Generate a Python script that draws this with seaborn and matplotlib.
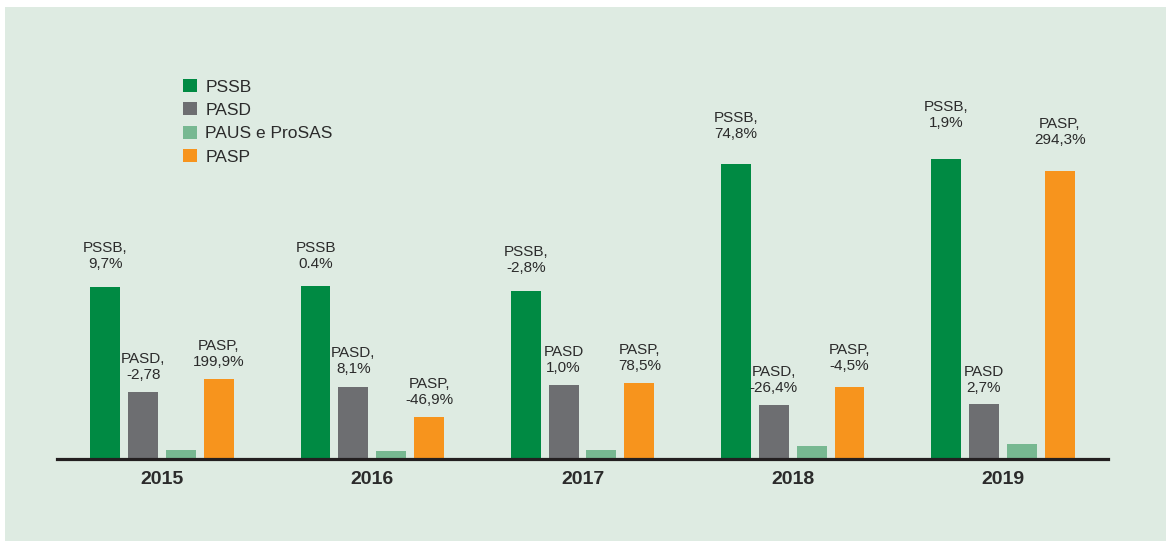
import matplotlib
matplotlib.use("Agg")
import matplotlib.pyplot as plt
import seaborn as sns
import pandas as pd
from matplotlib.patches import Rectangle

# ---- data (relative bar heights) ----
years = ["2015", "2016", "2017", "2018", "2019"]
programs = ["PSSB", "PASD", "PAUS e ProSAS", "PASP"]
pssb = [172, 173, 168, 295, 300]
pasd = [67, 72, 74, 54, 55]
paus = [9, 8, 9, 13, 15]
pasp = [80, 42, 76, 72, 288]

pssb_labels = ["PSSB,\n9,7%", "PSSB\n0.4%", "PSSB,\n-2,8%", "PSSB,\n74,8%", "PSSB,\n1,9%"]
pasd_labels = ["PASD,\n-2,78", "PASD,\n8,1%", "PASD\n1,0%", "PASD,\n-26,4%", "PASD\n2,7%"]
pasp_labels = ["PASP,\n199,9%", "PASP,\n-46,9%", "PASP,\n78,5%", "PASP,\n-4,5%", "PASP,\n294,3%"]

# label gap above bar top (pixels)
pssb_gap = [19, 18, 19, 26, 32]
pasd_gap = [13, 14, 13, 13, 12]
pasp_gap = [13, 13, 13, 17, 27]

colors = ["#008a43", "#6d6e71", "#77b891", "#f7941d"]
bg = "#deebe2"
txt = "#2b2b2b"

rows = []
for i, y in enumerate(years):
    for p, vals in zip(programs, [pssb, pasd, paus, pasp]):
        rows.append({"year": y, "program": p, "value": vals[i]})
df = pd.DataFrame(rows)

sns.set_theme(style="white")
plt.rcParams["font.family"] = ["Liberation Sans", "DejaVu Sans"]

W, H = 1166, 541
fig = plt.figure(figsize=(W / 100, H / 100), dpi=100, facecolor="white")
fig.patches.append(Rectangle((5 / W, 0), 1 - 5 / W, 1 - 7 / H, transform=fig.transFigure,
                             facecolor=bg, edgecolor="none", zorder=-10))

ax = fig.add_axes([57 / W, (H - 459) / H, 1051 / W, 400 / H])
ax.set_facecolor("none")

sns.barplot(data=df, x="year", y="value", hue="program", hue_order=programs,
            palette=colors, width=0.72, gap=0.21, ax=ax, saturation=1,
            legend=True, linewidth=0, edgecolor="none")

ax.set_xlim(-0.5, 4.5)
ax.set_ylim(0, 400)
for s in ["top", "right", "left"]:
    ax.spines[s].set_visible(False)
ax.spines["bottom"].set_color("#231f20")
ax.spines["bottom"].set_linewidth(2.3)
ax.spines["bottom"].set_zorder(5)
ax.set_yticks([])
ax.set_xlabel("")
ax.set_ylabel("")
ax.tick_params(axis="x", length=0, pad=9)
for t in ax.get_xticklabels():
    t.set_fontweight("bold")
    t.set_fontsize(14)
    t.set_color(txt)

# annotations
label_sets = {0: (pssb_labels, pssb_gap), 1: (pasd_labels, pasd_gap), 3: (pasp_labels, pasp_gap)}
for ci, (labs, gaps) in label_sets.items():
    cont = ax.containers[ci]
    for bar, lab, g in zip(cont, labs, gaps):
        cx = bar.get_x() + bar.get_width() / 2
        top = bar.get_height()
        ax.annotate(lab, xy=(cx, top), xytext=(0, g * 0.72), textcoords="offset points",
                    ha="center", va="baseline", fontsize=11, color=txt,
                    multialignment="center", linespacing=1.2)

handles, labels = ax.get_legend_handles_labels()
ax.legend(handles, labels, loc="upper left", bbox_to_anchor=(183 / W, 1 - 79 / H),
          bbox_transform=fig.transFigure, frameon=False, fontsize=12.5,
          handlelength=0.78, handleheight=0.78, handletextpad=0.5,
          labelspacing=0.45, borderaxespad=0, borderpad=0, labelcolor=txt)

fig.savefig("out.png", dpi=100, facecolor=fig.get_facecolor())
